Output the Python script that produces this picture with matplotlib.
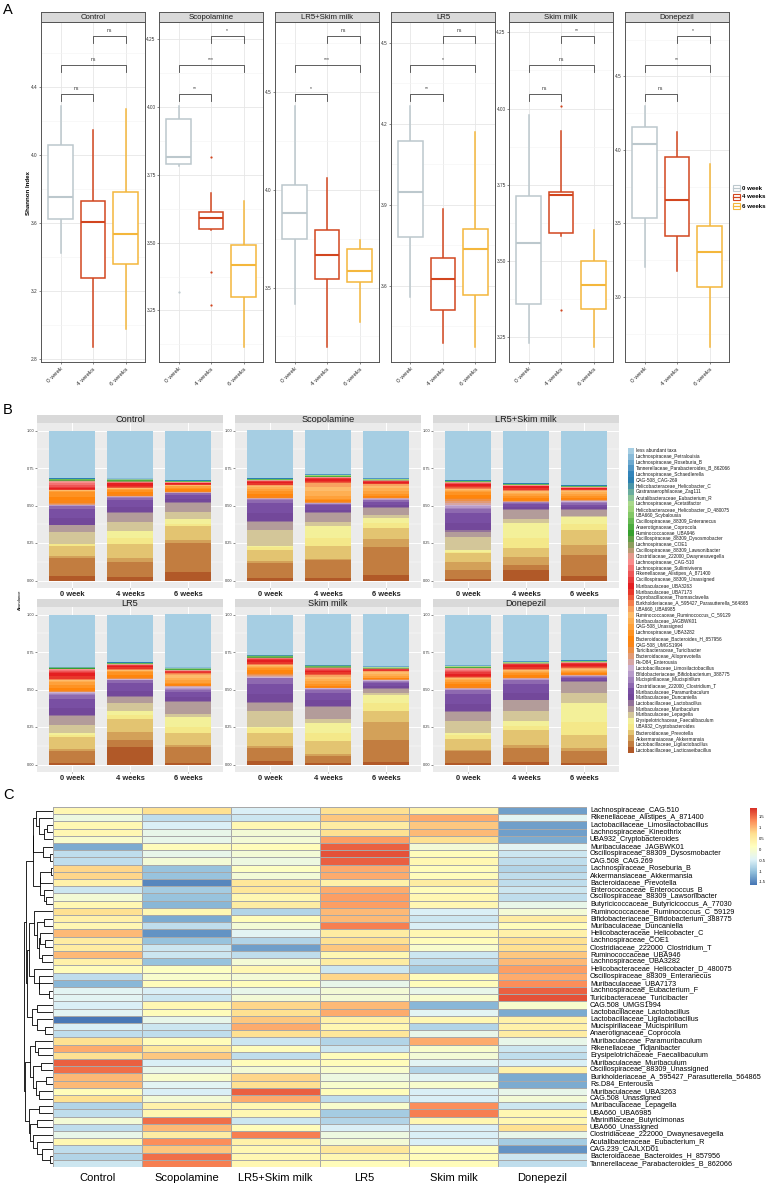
#!/usr/bin/env python3
"""Shannon index boxplots (A), stacked genus abundance bars (B) and a genus heatmap (C)."""

import numpy as np
import matplotlib
matplotlib.use("Agg")
import matplotlib.pyplot as plt
from matplotlib.colors import LinearSegmentedColormap
from matplotlib.patches import Rectangle

plt.rcParams["font.family"] = ["Liberation Sans", "DejaVu Sans"]

W, H = 767, 1185

GROUPS = ["Control", "Scopolamine", "LR5+Skim milk", "LR5", "Skim milk", "Donepezil"]
WEEKS = ["0 week", "4 weeks", "6 weeks"]
WEEK_COLORS = ["#BCC8CD", "#D2461F", "#F4B73C"]

# ---- panel A: Shannon index, [whisker low, q1, median, q3, whisker high] per week
BOX_CONTROL = [[3.425, 3.622, 3.753, 4.055, 4.288], [2.873, 3.275, 3.604, 3.731, 4.147], [2.975, 3.359, 3.533, 3.780, 4.271]]
BOX_SCOPOLAMINE = [[3.782, 3.788, 3.817, 3.957, 4.004], [3.548, 3.549, 3.592, 3.613, 3.683], [3.117, 3.300, 3.417, 3.490, 3.654]]
BOX_LR5_SKIM = [[3.416, 3.747, 3.882, 4.026, 4.430], [3.198, 3.543, 3.667, 3.794, 4.063], [3.326, 3.527, 3.584, 3.696, 3.741]]
BOX_LR5 = [[3.557, 3.780, 3.949, 4.136, 4.267], [3.388, 3.512, 3.625, 3.702, 3.883], [3.375, 3.567, 3.735, 3.811, 4.169]]
BOX_SKIM = [[3.229, 3.359, 3.557, 3.714, 3.978], [3.582, 3.591, 3.716, 3.726, 3.925], [3.218, 3.342, 3.419, 3.498, 3.602]]
BOX_DONEPEZIL = [[3.206, 3.536, 4.042, 4.153, 4.300], [3.177, 3.413, 3.656, 3.955, 4.121], [2.662, 3.070, 3.304, 3.479, 3.905]]

OUT_CONTROL = [[], [], []]
OUT_SCOPOLAMINE = [[3.318], [3.814, 3.390, 3.270], []]
OUT_LR5_SKIM = [[], [], []]
OUT_LR5 = [[], [], []]
OUT_SKIM = [[], [4.009, 3.337], []]
OUT_DONEPEZIL = [[], [], []]

# significance: 0 vs 4 weeks, 0 vs 6 weeks, 4 vs 6 weeks
SIG_CONTROL = ["ns", "ns", "ns"]
SIG_SCOPOLAMINE = ["**", "***", "*"]
SIG_LR5_SKIM = ["*", "***", "ns"]
SIG_LR5 = ["**", "*", "ns"]
SIG_SKIM = ["ns", "ns", "**"]
SIG_DONEPEZIL = ["ns", "**", "*"]

YTICKS_CONTROL = ["2.8", "3.2", "3.6", "4.0", "4.4"]
YTICKS_SCOPOLAMINE = ["3.25", "3.50", "3.75", "4.00", "4.25"]
YTICKS_LR5_SKIM = ["3.5", "4.0", "4.5"]
YTICKS_LR5 = ["3.6", "3.9", "4.2", "4.5"]
YTICKS_SKIM = ["3.25", "3.50", "3.75", "4.00", "4.25"]
YTICKS_DONEPEZIL = ["3.0", "3.5", "4.0", "4.5"]

# ---- panel B: relative abundance, legend order (top of stack first)
TAXA = [
    "less abundant taxa", "Lachnospiraceae_Petralouisia", "Lachnospiraceae_Roseburia_B",
    "Tannerellaceae_Parabacteroides_B_862066", "Lachnospiraceae_Schaedlerella", "CAG-508_CAG-269",
    "Helicobacteraceae_Helicobacter_C", "Gastranaerophilaceae_Zag111", "Acutalibacteraceae_Eubacterium_R",
    "Lachnospiraceae_Acetatifactor", "Helicobacteraceae_Helicobacter_D_480075", "UBA660_Scybalousia",
    "Oscillospiraceae_88309_Enteranecus", "Anaerotignaceae_Coprocola", "Ruminococcaceae_UBA946",
    "Oscillospiraceae_88309_Dysosmobacter", "Lachnospiraceae_COE1", "Oscillospiraceae_88309_Lawsonibacter",
    "Clostridiaceae_222000_Dwaynesavegella", "Lachnospiraceae_CAG-510", "Lachnospiraceae_Sullimivivens",
    "Rikenellaceae_Alistipes_A_871400", "Oscillospiraceae_88309_Unassigned", "Muribaculaceae_UBA3263",
    "Muribaculaceae_UBA7173", "Coprobacillaceae_Thomasclavelia",
    "Burkholderiaceae_A_595427_Parasutterella_564865", "UBA660_UBA6985",
    "Ruminococcaceae_Ruminococcus_C_59129", "Muribaculaceae_JAGBWK01", "CAG-508_Unassigned",
    "Lachnospiraceae_UBA3282", "Bacteroidaceae_Bacteroides_H_857956", "CAG-508_UMGS1994",
    "Turicibacteraceae_Turicibacter", "Bacteroidaceae_Alloprevotella", "Rs-D84_Enterousia",
    "Lactobacillaceae_Limosilactobacillus", "Bifidobacteriaceae_Bifidobacterium_388775",
    "Mucispirillaceae_Mucispirillum", "Clostridiaceae_222000_Clostridium_T",
    "Muribaculaceae_Paramuribaculum", "Muribaculaceae_Duncaniella", "Lactobacillaceae_Lactobacillus",
    "Muribaculaceae_Muribaculum", "Muribaculaceae_Lepagella", "Erysipelotrichaceae_Faecalibaculum",
    "UBA932_Cryptobacteroides", "Bacteroidaceae_Prevotella", "Akkermansiaceae_Akkermansia",
    "Lactobacillaceae_Ligilactobacillus", "Lactobacillaceae_Lacticaseibacillus",
]

ABUND_CONTROL = [
    [.323, .001, .001, .001, .001, .001, .001, .001, .001,
     .001, .001, .001, .001, .003, .002, .001, .001, .001,
     .006, .010, .012, .012, .010, .008, .003, .002, .001,
     .002, .003, .004, .006, .030, .025, .015, .008, .005, .003,
     .002, .002, .002, .020, .060, .048,
     .005, .045, .080, .004, .010, .073, .010, .120, .034],
    [.323, .001, .001, .001, .001, .001, .001, .001, .001,
     .001, .001, .001, .002, .004, .003, .001, .001, .001,
     .002, .002, .002, .002, .003, .015, .012, .003, .002,
     .002, .003, .003, .004, .015, .015, .008, .003, .002, .002,
     .003, .002, .002, .015, .045, .038,
     .007, .060, .060, .050, .035, .100, .027, .100, .022],
    [.340, .001, .001, .001, .001, .001, .001, .001, .001,
     .001, .001, .001, .001, .001, .001, .001, .001, .001,
     .001, .001, .002, .002, .002, .005, .004, .002, .001,
     .002, .003, .004, .007, .012, .010, .007, .002, .002, .002,
     .002, .002, .002, .010, .028, .020,
     .006, .065, .049, .030, .019, .091, .022, .200, .060],
]
ABUND_SCOPOLAMINE = [
    [.327, .001, .001, .001, .001, .001, .001, .001, .001,
     .001, .001, .001, .001, .001, .002, .001, .001, .001,
     .001, .001, .002, .003, .004, .010, .008, .002, .002,
     .005, .008, .012, .015, .020, .015, .010, .003, .002, .002,
     .003, .003, .003, .020, .070, .057,
     .006, .056, .109, .005, .025, .075, .010, .110, .014],
    [.300, .001, .001, .001, .001, .001, .001, .001, .001,
     .001, .001, .001, .002, .004, .002, .001, .001, .001,
     .001, .001, .002, .003, .004, .012, .010, .004, .003,
     .025, .030, .030, .024, .010, .007, .005, .002, .002, .002,
     .002, .002, .002, .010, .028, .020,
     .006, .061, .029, .080, .054, .089, .010, .120, .019],
    [.327, .001, .001, .001, .001, .001, .001, .001, .001,
     .001, .001, .001, .001, .001, .001, .001, .001, .001,
     .001, .001, .002, .002, .003, .006, .005, .002, .002,
     .012, .015, .018, .022, .012, .009, .006, .002, .002, .002,
     .004, .004, .003, .010, .020, .015,
     .006, .050, .018, .040, .031, .078, .056, .190, .037],
]
ABUND_LR5_SKIM = [
    [.334, .001, .001, .001, .001, .001, .001, .001, .001,
     .001, .001, .001, .001, .001, .001, .001, .001, .001,
     .002, .002, .002, .003, .004, .012, .010, .005, .004,
     .003, .004, .006, .008, .020, .018, .012, .012, .012, .012,
     .010, .010, .009, .030, .065, .050,
     .010, .033, .090, .012, .012, .056, .056, .060, .011],
    [.361, .001, .001, .001, .001, .001, .001, .001, .001,
     .001, .001, .001, .001, .001, .001, .001, .001, .001,
     .001, .001, .001, .002, .003, .012, .010, .004, .003,
     .005, .008, .012, .015, .014, .010, .007, .002, .002, .002,
     .002, .002, .002, .010, .020, .013,
     .006, .067, .027, .100, .067, .067, .050, .039, .071],
    [.376, .001, .001, .001, .001, .001, .001, .001, .001,
     .001, .001, .001, .001, .001, .001, .001, .001, .001,
     .001, .001, .001, .002, .002, .006, .005, .002, .002,
     .006, .008, .012, .015, .012, .008, .006, .002, .002, .002,
     .005, .005, .005, .010, .020, .013,
     .005, .040, .010, .050, .039, .100, .071, .150, .028],
]
ABUND_LR5 = [
    [.354, .001, .001, .001, .001, .001, .001, .001, .001,
     .001, .001, .001, .001, .001, .001, .001, .001, .001,
     .002, .004, .006, .008, .010, .020, .015, .004, .002,
     .004, .006, .010, .015, .020, .015, .008, .004, .003, .003,
     .005, .005, .005, .030, .060, .048,
     .005, .062, .056, .010, .020, .081, .010, .080, .013],
    [.327, .001, .001, .001, .001, .001, .001, .001, .001,
     .001, .001, .001, .001, .001, .001, .001, .001, .001,
     .001, .001, .002, .002, .003, .012, .010, .003, .002,
     .004, .004, .005, .006, .018, .015, .008, .002, .002, .002,
     .003, .003, .003, .020, .050, .040,
     .005, .038, .056, .030, .025, .089, .056, .050, .121],
    [.367, .001, .001, .001, .001, .001, .001, .001, .001,
     .001, .001, .001, .002, .003, .002, .001, .001, .001,
     .001, .001, .001, .002, .003, .006, .005, .002, .002,
     .012, .015, .018, .022, .006, .005, .004, .003, .003, .003,
     .007, .008, .007, .015, .035, .029,
     .005, .084, .020, .070, .043, .078, .020, .110, .008],
]
ABUND_SKIM = [
    [.283, .001, .001, .001, .001, .001, .001, .001, .001,
     .001, .001, .001, .002, .004, .003, .001, .001, .001,
     .001, .002, .003, .004, .005, .015, .012, .004, .003,
     .003, .004, .006, .008, .018, .015, .010, .008, .007, .007,
     .003, .003, .003, .040, .070, .055,
     .006, .061, .111, .010, .030, .093, .015, .090, .026],
    [.345, .001, .001, .001, .001, .001, .001, .001, .001,
     .001, .001, .001, .002, .003, .002, .001, .001, .001,
     .002, .003, .004, .005, .006, .012, .010, .005, .004,
     .010, .015, .018, .020, .010, .007, .005, .002, .002, .002,
     .003, .003, .003, .020, .050, .040,
     .006, .083, .029, .070, .057, .089, .010, .050, .010],
    [.367, .001, .001, .001, .001, .001, .001, .001, .001,
     .001, .001, .001, .001, .001, .001, .001, .001, .001,
     .001, .001, .001, .002, .002, .004, .003, .001, .001,
     .008, .010, .014, .017, .004, .003, .003, .002, .002, .002,
     .004, .004, .004, .010, .018, .014,
     .005, .035, .010, .060, .051, .078, .133, .150, .021],
]
ABUND_DONEPEZIL = [
    [.350, .001, .001, .001, .001, .001, .001, .001, .001,
     .001, .001, .001, .002, .003, .002, .001, .001, .001,
     .004, .006, .008, .010, .010, .012, .010, .003, .002,
     .004, .005, .008, .010, .018, .015, .009, .002, .002, .002,
     .003, .003, .003, .030, .070, .044,
     .006, .061, .089, .010, .030, .071, .010, .080, .013],
    [.323, .001, .001, .001, .001, .001, .001, .001, .001,
     .001, .001, .001, .001, .001, .001, .001, .001, .001,
     .001, .001, .002, .002, .003, .015, .012, .004, .003,
     .004, .004, .005, .006, .016, .013, .008, .002, .002, .002,
     .003, .003, .003, .030, .060, .045,
     .006, .073, .067, .040, .026, .100, .022, .100, .016],
    [.316, .001, .001, .001, .001, .001, .001, .001, .001,
     .001, .001, .001, .001, .001, .001, .001, .001, .001,
     .001, .001, .002, .003, .004, .012, .010, .004, .003,
     .004, .006, .008, .010, .008, .006, .004, .002, .002, .002,
     .003, .002, .002, .008, .013, .010,
     .005, .075, .073, .130, .092, .089, .023, .080, .013],
]

# ---- panel C: scaled abundance heatmap (rows in clustered order)
HEAT_ROWS = [
    "Lachnospiraceae_CAG.510", "Rikenellaceae_Alistipes_A_871400", "Lactobacillaceae_Limosilactobacillus",
    "Lachnospiraceae_Kineothrix", "UBA932_Cryptobacteroides", "Muribaculaceae_JAGBWK01",
    "Oscillospiraceae_88309_Dysosmobacter", "CAG.508_CAG.269", "Lachnospiraceae_Roseburia_B",
    "Akkermansiaceae_Akkermansia", "Bacteroidaceae_Prevotella", "Enterococcaceae_Enterococcus_B",
    "Oscillospiraceae_88309_Lawsonibacter", "Butyricicoccaceae_Butyricicoccus_A_77030",
    "Ruminococcaceae_Ruminococcus_C_59129", "Bifidobacteriaceae_Bifidobacterium_388775",
    "Muribaculaceae_Duncaniella", "Helicobacteraceae_Helicobacter_C", "Lachnospiraceae_COE1",
    "Clostridiaceae_222000_Clostridium_T", "Ruminococcaceae_UBA946", "Lachnospiraceae_UBA3282",
    "Helicobacteraceae_Helicobacter_D_480075", "Oscillospiraceae_88309_Enteranecus",
    "Muribaculaceae_UBA7173", "Lachnospiraceae_Eubacterium_F", "Turicibacteraceae_Turicibacter",
    "CAG.508_UMGS1994", "Lactobacillaceae_Lactobacillus", "Lactobacillaceae_Ligilactobacillus",
    "Mucispirillaceae_Mucispirillum", "Anaerotignaceae_Coprocola", "Muribaculaceae_Paramuribaculum",
    "Rikenellaceae_Tidjanibacter", "Erysipelotrichaceae_Faecalibaculum", "Muribaculaceae_Muribaculum",
    "Oscillospiraceae_88309_Unassigned", "Burkholderiaceae_A_595427_Parasutterella_564865",
    "Rs.D84_Enterousia", "Muribaculaceae_UBA3263", "CAG.508_Unassigned", "Muribaculaceae_Lepagella",
    "UBA660_UBA6985", "Marinifilaceae_Butyricimonas", "UBA660_Unassigned",
    "Clostridiaceae_222000_Dwaynesavegella", "Acutalibacteraceae_Eubacterium_R", "CAG.239_CAJLXD01",
    "Bacteroidaceae_Bacteroides_H_857956", "Tannerellaceae_Parabacteroides_B_862066",
]
HEAT_CONTROL = [0.3, -0.2, 0.3, 0.3, 0.0, -1.2, -0.7, -0.7, 0.8, 0.8,
                0.4, -0.6, -0.1, 0.3, 0.7, 0.4, 0.3, 1.0, 0.5, 0.5,
                1.0, 0.4, 0.2, -0.7, -1.1, -0.4, -0.4, -0.5, -0.4, -1.6,
                -0.5, -0.7, 0.7, 1.1, 0.7, 1.6, 1.5, 1.0, 1.0, 0.2,
                0.7, -0.8, -0.7, -0.1, -0.7, -0.3, 0.3, -0.7, -0.8, -0.6]
HEAT_SCOPOLAMINE = [0.7, -0.7, -0.5, -0.3, -0.3, 0.2, -0.3, -0.1, -1.0, -1.0,
                    -1.5, -0.9, -1.0, -1.1, 0.3, -1.2, -0.7, -1.4, -1.0, -0.6,
                    -0.6, -1.0, 0.1, 0.0, 0.2, -0.5, -0.6, 0.3, 0.2, -0.3,
                    -0.6, -0.7, 0.2, 0.6, 0.9, -0.5, -0.3, 0.0, -0.4, -0.5,
                    -0.1, 0.4, 0.3, 1.5, 1.0, 0.5, 1.3, 0.9, 1.5, 1.4]
HEAT_LR5_SKIM = [-0.5, -0.6, 0.3, -0.1, -0.1, 0.2, -0.1, -0.2, 0.1, -0.1,
                 0.6, 0.6, 0.3, 0.5, -0.8, 0.2, -0.1, -0.4, -0.8, -1.3,
                 -0.7, -0.1, 0.3, -0.1, 0.2, -0.3, -0.1, 0.8, 0.7, 0.9,
                 1.1, 0.7, -0.6, 0.2, -0.7, 0.2, -0.1, 0.8, 0.7, 1.6,
                 1.1, 0.3, 0.3, -0.6, 0.2, 1.4, 0.4, 0.3, 0.3, 0.3]
HEAT_LR5 = [0.7, 0.9, 0.5, 0.7, 1.2, 1.6, 1.7, 1.6, 1.1, 1.1,
            0.4, 1.1, 1.2, 1.2, 1.0, 1.0, 1.4, 0.5, 0.7, 0.9,
            0.3, 0.5, -0.6, 0.8, -0.3, -0.1, -0.1, 1.0, 1.1, 0.4,
            0.3, 0.6, -0.8, -0.6, 0.2, 0.2, 0.0, -0.2, 0.0, 0.2,
            -0.7, 0.0, -0.9, -0.8, -0.5, -0.2, -0.1, 0.6, 0.3, 0.2]
HEAT_SKIM = [0.4, 1.1, 0.9, 1.0, 0.7, -0.1, 0.2, 0.3, 0.2, 0.2,
             0.5, 0.2, 0.3, 0.3, -0.5, -0.6, -0.5, 0.3, 0.2, 0.0,
             -0.6, -0.7, -0.9, 0.2, 0.2, -0.3, 0.0, -1.1, -0.4, 0.3,
             -0.8, -0.3, 1.1, 0.0, -0.1, -0.4, -0.8, -0.4, 0.0, -0.5,
             -0.5, 1.3, 1.4, 0.3, -0.5, -0.5, -0.5, 0.2, 0.2, 0.2]
HEAT_DONEPEZIL = [-1.3, -0.4, -1.3, -1.3, -1.2, -0.4, -0.6, -0.7, -0.8, -0.7,
                  -0.7, -0.6, -0.7, -0.3, -0.1, 0.5, 0.2, 0.4, 0.7, 0.7,
                  0.9, 1.0, 1.2, 1.1, 1.3, 1.6, 1.7, 0.0, -1.2, 0.4,
                  0.4, 0.5, -0.3, -0.6, -0.7, -0.5, 0.4, -1.2, -1.2, -0.3,
                  -0.1, -0.6, 0.3, 0.3, 0.7, -0.3, -0.9, -1.4, -0.6, -0.7]
HEAT_TICKS = ["-1.5", "-1", "-0.5", "0", "0.5", "1", "1.5"]
HEAT_LIMITS = (-1.64, 1.91)


def px_axes(fig, x0, y0, x1, y1):
    return fig.add_axes([x0 / W, 1 - y1 / H, (x1 - x0) / W, (y1 - y0) / H])


def draw_strip(fig, x0, y0, x1, y1, label, size, border):
    sax = px_axes(fig, x0, y0, x1, y1)
    sax.set_facecolor("#D9D9D9")
    sax.set_xticks([])
    sax.set_yticks([])
    for sp in sax.spines.values():
        sp.set_visible(border)
        sp.set_color("#555555")
        sp.set_linewidth(0.7)
    sax.text(0.5, 0.45, label, ha="center", va="center", fontsize=size, color="#1A1A1A",
             transform=sax.transAxes)


def draw_boxes(fig, x0, name, box, outliers, sigs, ticks):
    ax = px_axes(fig, x0, 22, x0 + 104, 362)
    draw_strip(fig, x0, 12, x0 + 104, 22, name, 5.6, True)
    stats = []
    for k in range(3):
        lo, q1, med, q3, hi = box[k]
        stats.append(dict(whislo=lo, q1=q1, med=med, q3=q3, whishi=hi, fliers=outliers[k]))
    art = ax.bxp(stats, positions=[1, 2, 3], widths=0.75, showcaps=False, patch_artist=True,
                 flierprops=dict(marker="o", markersize=1.6, markeredgewidth=0))
    for k, c in enumerate(WEEK_COLORS):
        art["boxes"][k].set(facecolor="white", edgecolor=c, linewidth=1.1, zorder=3)
        art["medians"][k].set(color=c, linewidth=1.5, zorder=4)
        for wl in art["whiskers"][2 * k:2 * k + 2]:
            wl.set(color=c, linewidth=1.1)
        art["fliers"][k].set(markerfacecolor=c, markeredgecolor=c)

    vals = [v for b in box for v in b] + [v for o in outliers for v in o]
    lo, hi = min(vals), max(vals)
    rng = hi - lo
    levels = [hi + rng * (0.05 + 0.12 * j) for j in range(3)]
    tip = 0.03 * rng
    for (a, b), yb, s in zip([(1, 2), (1, 3), (2, 3)], levels, sigs):
        ax.plot([a, a, b, b], [yb - tip, yb, yb, yb - tip], color="#444444", lw=0.6)
        ax.text((a + b) / 2, yb + 0.012 * rng, s, ha="center", va="bottom", fontsize=3.6,
                color="#333333")

    tv = [float(t) for t in ticks]
    ax.set_yticks(tv)
    ax.set_yticklabels(ticks)
    step = tv[1] - tv[0]
    ax.set_yticks(np.arange(tv[0] - step / 2, tv[-1] + step, step), minor=True)
    ax.set_xticks([1, 2, 3])
    ax.set_xticklabels(WEEKS, rotation=45, ha="right", rotation_mode="anchor")
    # limits last, so the tick lists cannot widen them
    ax.set_ylim(lo - 0.064 * rng, levels[2] + 0.058 * rng)
    ax.set_xlim(0.4, 3.6)
    ax.tick_params(axis="y", labelsize=3.4, length=1.5, width=0.4, pad=0.8, colors="#333333")
    ax.tick_params(axis="x", labelsize=4.6, length=1.5, width=0.4, pad=1.5, colors="#333333")
    ax.tick_params(which="minor", length=0)
    ax.grid(which="major", color="#E6E6E6", lw=0.6)
    ax.grid(which="minor", axis="y", color="#F3F3F3", lw=0.4)
    ax.set_axisbelow(True)
    for sp in ax.spines.values():
        sp.set_color("#555555")
        sp.set_linewidth(0.7)


def draw_stack(fig, x0, top, name, abund):
    draw_strip(fig, x0, top - 8.5, x0 + 186, top, name, 6.6, False)
    ax = px_axes(fig, x0, top, x0 + 186, top + 165)
    vals = np.array(abund, dtype=float)
    vals = vals / vals.sum(axis=1, keepdims=True)
    bottom = np.zeros(3)
    for t in range(len(TAXA) - 1, -1, -1):
        ax.bar([1, 2, 3], vals[:, t], bottom=bottom, width=0.8, color=PALETTE[t], linewidth=0,
               zorder=2)
        bottom += vals[:, t]
    ax.set_facecolor("#EBEBEB")
    ax.set_yticks([0, 0.25, 0.5, 0.75, 1.0])
    ax.set_yticklabels(["0.00", "0.25", "0.50", "0.75", "1.00"])
    ax.set_yticks([0.125, 0.375, 0.625, 0.875], minor=True)
    ax.set_xticks([1, 2, 3])
    ax.set_xticklabels(WEEKS, fontweight="bold")
    ax.set_xlim(0.4, 3.6)
    ax.set_ylim(-0.05, 1.05)
    ax.tick_params(axis="y", labelsize=2.8, length=1.2, width=0.4, pad=0.8, colors="#333333")
    ax.tick_params(axis="x", labelsize=5.4, length=1.0, width=0.4, pad=0.8, colors="#222222")
    ax.tick_params(which="minor", length=0)
    ax.grid(which="major", color="white", lw=0.7)
    ax.grid(which="minor", axis="y", color="white", lw=0.35)
    ax.set_axisbelow(True)
    for sp in ax.spines.values():
        sp.set_visible(False)


def adjacent_linkage(mat):
    clusters = [{"members": [i], "pos": i + 0.5, "h": 0.0} for i in range(len(mat))]
    merges = []
    while len(clusters) > 1:
        best = None
        for k in range(len(clusters) - 1):
            a, b = clusters[k], clusters[k + 1]
            d = np.mean([np.linalg.norm(mat[i] - mat[j]) for i in a["members"] for j in b["members"]])
            if best is None or d < best[0]:
                best = (d, k)
        d, k = best
        a, b = clusters[k], clusters[k + 1]
        h = max(d, a["h"], b["h"])
        merges.append((a["pos"], a["h"], b["pos"], b["h"], h))
        clusters[k:k + 2] = [{"members": a["members"] + b["members"],
                              "pos": (a["pos"] + b["pos"]) / 2, "h": h}]
    return merges


paired = ["#A6CEE3", "#1F78B4", "#B2DF8A", "#33A02C", "#FB9A99", "#E31A1C",
          "#FDBF6F", "#FF7F00", "#CAB2D6", "#6A3D9A", "#FFFF99", "#B15928"]
ramp = LinearSegmentedColormap.from_list("paired_ramp", paired)
PALETTE = [ramp(v) for v in np.linspace(0, 1, len(TAXA))]

fig = plt.figure(figsize=(W / 100, H / 100), dpi=100)

# ---- A
a_boxes = [BOX_CONTROL, BOX_SCOPOLAMINE, BOX_LR5_SKIM, BOX_LR5, BOX_SKIM, BOX_DONEPEZIL]
a_outs = [OUT_CONTROL, OUT_SCOPOLAMINE, OUT_LR5_SKIM, OUT_LR5, OUT_SKIM, OUT_DONEPEZIL]
a_sigs = [SIG_CONTROL, SIG_SCOPOLAMINE, SIG_LR5_SKIM, SIG_LR5, SIG_SKIM, SIG_DONEPEZIL]
a_ticks = [YTICKS_CONTROL, YTICKS_SCOPOLAMINE, YTICKS_LR5_SKIM, YTICKS_LR5, YTICKS_SKIM, YTICKS_DONEPEZIL]
a_lefts = [41, 159, 275, 391, 509, 625]
for i, name in enumerate(GROUPS):
    draw_boxes(fig, a_lefts[i], name, a_boxes[i], a_outs[i], a_sigs[i], a_ticks[i])

# ---- B
b_abund = [ABUND_CONTROL, ABUND_SCOPOLAMINE, ABUND_LR5_SKIM, ABUND_LR5, ABUND_SKIM, ABUND_DONEPEZIL]
b_lefts = [37, 235, 433]
b_tops = [423, 607]
for i, name in enumerate(GROUPS):
    r, c = divmod(i, 3)
    draw_stack(fig, b_lefts[c], b_tops[r], name, b_abund[i])

# ---- C
heat = np.column_stack([HEAT_CONTROL, HEAT_SCOPOLAMINE, HEAT_LR5_SKIM, HEAT_LR5, HEAT_SKIM, HEAT_DONEPEZIL])
heat_cmap = LinearSegmentedColormap.from_list(
    "rdylbu_r", ["#4575B4", "#91BFDB", "#E0F3F8", "#FFFFBF", "#FEE090", "#FC8D59", "#D73027"])
hax = px_axes(fig, 53, 807, 587, 1167)
mesh = hax.pcolormesh(heat, cmap=heat_cmap, vmin=HEAT_LIMITS[0], vmax=HEAT_LIMITS[1],
                      edgecolors="#A8A8A8", linewidth=0.45)
hax.set_xlim(0, heat.shape[1])
hax.set_ylim(heat.shape[0], 0)
hax.axis("off")

dax = px_axes(fig, 24, 807, 53, 1167)
merges = adjacent_linkage(heat)
hmax = max(m[4] for m in merges)
for pa, ha, pb, hb, h in merges:
    dax.plot([ha, h, h, hb], [pa, pa, pb, pb], color="black", lw=0.6, solid_capstyle="butt")
dax.set_xlim(hmax, 0)
dax.set_ylim(heat.shape[0], 0)
dax.axis("off")

cax = px_axes(fig, 750, 808, 757, 885)
cb = fig.colorbar(mesh, cax=cax, ticks=[float(t) for t in HEAT_TICKS])
cb.ax.set_yticklabels(HEAT_TICKS)
cb.outline.set_visible(False)
cax.tick_params(labelsize=3.0, length=0, pad=1.5)

# ---- overlay in pixel coordinates: letters, legends, labels
ov = fig.add_axes([0, 0, 1, 1])
ov.set_xlim(0, W)
ov.set_ylim(H, 0)
ov.axis("off")
ov.patch.set_alpha(0)

for letter, y in [("A", 10), ("B", 410), ("C", 795)]:
    ov.text(3, y, letter, fontsize=10.5, ha="left", va="center")

ov.text(28, 193, "Shannon Index", rotation=90, fontsize=4.4, fontweight="bold",
        ha="center", va="center")
for k, (wk, c) in enumerate(zip(WEEKS, WEEK_COLORS)):
    yc = 188 + 9 * k
    ov.add_patch(Rectangle((733, yc - 3.2), 7, 6.4, facecolor="white", edgecolor=c, lw=0.8))
    ov.plot([733, 740], [yc, yc], color=c, lw=0.9)
    ov.text(742, yc, wk, fontsize=4.4, fontweight="bold", va="center", ha="left")

ov.text(20, 600, "Abundance", rotation=90, fontsize=3.0, ha="center", va="center")
for i, (lab, col) in enumerate(zip(TAXA, PALETTE)):
    yc = 450.7 + 5.87 * i
    ov.add_patch(Rectangle((628, yc - 2.93), 6, 5.87, facecolor=col, edgecolor="none"))
    ov.text(636, yc, lab, fontsize=3.4, va="center", ha="left", color="#1A1A1A")

for i, lab in enumerate(HEAT_ROWS):
    ov.text(590, 807 + 7.2 * (i + 0.5), lab, fontsize=5.2, va="center", ha="left")
for j, name in enumerate(GROUPS):
    ov.text(53 + 89 * (j + 0.5), 1178, name, fontsize=8, ha="center", va="center")

fig.savefig("out.png", dpi=100)
